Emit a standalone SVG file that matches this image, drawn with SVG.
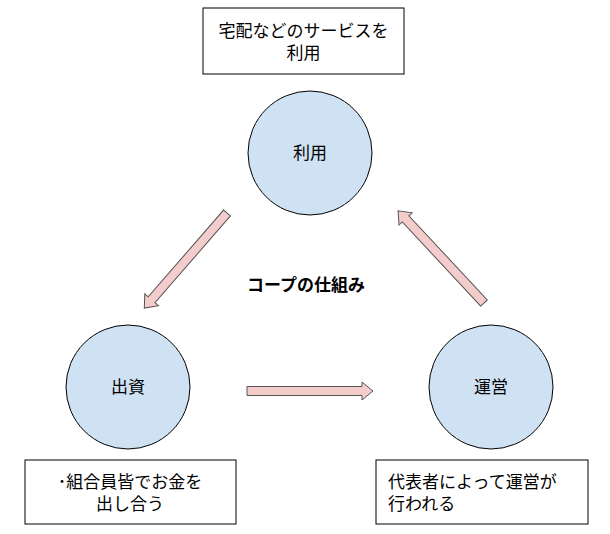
<svg xmlns="http://www.w3.org/2000/svg" width="610" height="534" viewBox="0 0 610 534">
<style>
text{font-family:"Liberation Sans","Noto Sans CJK JP",sans-serif;font-size:17px;fill:#000}
.c{fill:#cfe2f3;stroke:#000;stroke-width:1}
.b{fill:#fff;stroke:#000;stroke-width:1}
.a{fill:#f4cccc;stroke:#555;stroke-width:1}
</style>
<defs><path id="ar" d="M0,-4.5 H115 V-9 L126,0 L115,9 V4.5 H0 Z"/></defs>
<rect width="610" height="534" fill="#fff"/>
<g id="note-top"><rect class="b" x="203" y="8" width="201" height="66"/><text x="303.5" y="37" text-anchor="middle">宅配などのサービスを</text><text x="303.5" y="59" text-anchor="middle">利用</text></g>
<g id="n-riyou"><circle class="c" cx="310" cy="153" r="62"/><text x="310" y="159" text-anchor="middle">利用</text></g>
<g id="n-shushi"><circle class="c" cx="128" cy="387" r="62"/><text x="128" y="393" text-anchor="middle">出資</text></g>
<g id="n-unei"><circle class="c" cx="491" cy="387" r="62"/><text x="491" y="393" text-anchor="middle">運営</text></g>
<g id="title"><text x="306" y="291" text-anchor="middle" font-weight="bold">コープの仕組み</text></g>
<g id="note-left"><rect class="b" x="25" y="460" width="211" height="64"/><text x="130" y="488" text-anchor="middle">･組合員皆でお金を</text><text x="130" y="510" text-anchor="middle">出し合う</text></g>
<g id="note-right"><rect class="b" x="376" y="460" width="212" height="64"/><text x="388" y="488">代表者によって運営が</text><text x="388" y="510">行われる</text></g>
<g id="connectors">
<use href="#ar" class="a" transform="translate(227,213) rotate(131)"/>
<use href="#ar" class="a" transform="translate(247,391)"/>
<use href="#ar" class="a" transform="translate(484,303) rotate(227)"/>
</g>
</svg>
